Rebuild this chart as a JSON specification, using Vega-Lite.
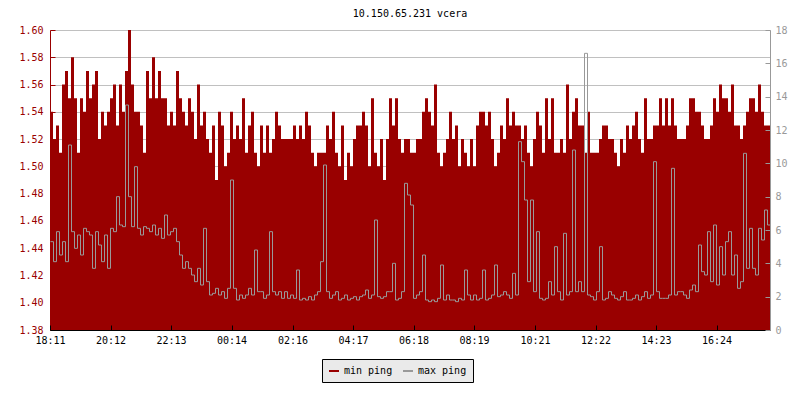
{
  "$schema": "https://vega.github.io/schema/vega-lite/v6.json",
  "autosize": {"type": "none"},
  "width": 720,
  "height": 300,
  "padding": {"left": 50, "top": 30, "right": 30, "bottom": 70},
  "background": "white",
  "title": {"text": "10.150.65.231 vcera", "font": "DejaVu Sans Mono", "fontSize": 10, "fontWeight": "normal", "color": "black", "anchor": "middle", "offset": 6},
  "config": {
    "view": {"stroke": null},
    "font": "DejaVu Sans Mono",
    "axis": {"labelFont": "DejaVu Sans Mono", "labelFontSize": 10, "title": null}
  },
  "datasets": {
    "ping": [
{"m":0,"lo":1.54,"hi":5.3},{"m":6,"lo":1.52,"hi":4.1},{"m":12,"lo":1.53,"hi":5.9},{"m":18,"lo":1.51,"hi":4.5},{"m":24,"lo":1.56,"hi":5.3},{"m":30,"lo":1.57,"hi":4.1},{"m":36,"lo":1.55,"hi":11.1},{"m":42,"lo":1.58,"hi":5.9},{"m":48,"lo":1.55,"hi":4.9},{"m":54,"lo":1.51,"hi":5.7},
{"m":60,"lo":1.55,"hi":4.5},{"m":66,"lo":1.54,"hi":6.1},{"m":72,"lo":1.57,"hi":5.9},{"m":78,"lo":1.55,"hi":5.7},{"m":84,"lo":1.56,"hi":3.7},{"m":90,"lo":1.57,"hi":5.9},{"m":96,"lo":1.52,"hi":5.1},{"m":102,"lo":1.54,"hi":4.1},{"m":108,"lo":1.53,"hi":5.7},{"m":114,"lo":1.54,"hi":3.7},
{"m":120,"lo":1.55,"hi":6.1},{"m":126,"lo":1.56,"hi":5.9},{"m":132,"lo":1.53,"hi":8.0},{"m":138,"lo":1.56,"hi":6.3},{"m":144,"lo":1.54,"hi":6.2},{"m":150,"lo":1.57,"hi":13.5},{"m":156,"lo":1.60,"hi":8.0},{"m":162,"lo":1.56,"hi":6.2},{"m":168,"lo":1.54,"hi":9.8},{"m":174,"lo":1.54,"hi":6.1},
{"m":180,"lo":1.53,"hi":5.7},{"m":186,"lo":1.51,"hi":6.2},{"m":192,"lo":1.57,"hi":6.1},{"m":198,"lo":1.55,"hi":5.9},{"m":204,"lo":1.58,"hi":6.3},{"m":210,"lo":1.55,"hi":5.7},{"m":216,"lo":1.57,"hi":6.1},{"m":222,"lo":1.55,"hi":5.5},{"m":228,"lo":1.55,"hi":6.9},{"m":234,"lo":1.53,"hi":5.7},
{"m":240,"lo":1.54,"hi":5.9},{"m":246,"lo":1.53,"hi":6.1},{"m":252,"lo":1.57,"hi":5.3},{"m":258,"lo":1.55,"hi":4.5},{"m":264,"lo":1.54,"hi":3.7},{"m":270,"lo":1.53,"hi":4.1},{"m":276,"lo":1.55,"hi":3.7},{"m":282,"lo":1.54,"hi":3.3},{"m":288,"lo":1.52,"hi":2.9},{"m":294,"lo":1.56,"hi":3.7},
{"m":300,"lo":1.53,"hi":2.7},{"m":306,"lo":1.54,"hi":6.1},{"m":312,"lo":1.52,"hi":2.9},{"m":318,"lo":1.51,"hi":2.1},{"m":324,"lo":1.53,"hi":2.2},{"m":330,"lo":1.49,"hi":2.5},{"m":336,"lo":1.54,"hi":2.1},{"m":342,"lo":1.53,"hi":2.3},{"m":348,"lo":1.50,"hi":1.9},{"m":354,"lo":1.51,"hi":2.5},
{"m":360,"lo":1.54,"hi":9.0},{"m":366,"lo":1.52,"hi":2.5},{"m":372,"lo":1.53,"hi":1.8},{"m":378,"lo":1.52,"hi":2.1},{"m":384,"lo":1.55,"hi":1.9},{"m":390,"lo":1.51,"hi":2.1},{"m":396,"lo":1.53,"hi":2.5},{"m":402,"lo":1.54,"hi":2.1},{"m":408,"lo":1.51,"hi":4.8},{"m":414,"lo":1.50,"hi":2.3},
{"m":420,"lo":1.53,"hi":2.3},{"m":426,"lo":1.51,"hi":1.9},{"m":432,"lo":1.53,"hi":2.1},{"m":438,"lo":1.51,"hi":5.9},{"m":444,"lo":1.52,"hi":2.3},{"m":450,"lo":1.54,"hi":2.1},{"m":456,"lo":1.53,"hi":2.3},{"m":462,"lo":1.52,"hi":1.9},{"m":468,"lo":1.52,"hi":2.3},{"m":474,"lo":1.52,"hi":1.9},
{"m":480,"lo":1.52,"hi":2.1},{"m":486,"lo":1.53,"hi":1.9},{"m":492,"lo":1.52,"hi":3.6},{"m":498,"lo":1.53,"hi":1.8},{"m":504,"lo":1.52,"hi":1.9},{"m":510,"lo":1.54,"hi":1.8},{"m":516,"lo":1.53,"hi":2.0},{"m":522,"lo":1.51,"hi":1.8},{"m":528,"lo":1.50,"hi":2.1},{"m":534,"lo":1.51,"hi":2.3},
{"m":540,"lo":1.51,"hi":4.1},{"m":546,"lo":1.51,"hi":9.9},{"m":552,"lo":1.53,"hi":2.3},{"m":558,"lo":1.52,"hi":1.9},{"m":564,"lo":1.54,"hi":2.1},{"m":570,"lo":1.51,"hi":2.3},{"m":576,"lo":1.50,"hi":1.8},{"m":582,"lo":1.53,"hi":1.9},{"m":588,"lo":1.49,"hi":2.1},{"m":594,"lo":1.51,"hi":1.8},
{"m":600,"lo":1.50,"hi":1.9},{"m":606,"lo":1.52,"hi":2.0},{"m":612,"lo":1.53,"hi":1.8},{"m":618,"lo":1.53,"hi":2.0},{"m":624,"lo":1.54,"hi":2.1},{"m":630,"lo":1.53,"hi":2.4},{"m":636,"lo":1.50,"hi":1.9},{"m":642,"lo":1.55,"hi":2.1},{"m":648,"lo":1.51,"hi":6.6},{"m":654,"lo":1.50,"hi":2.0},
{"m":660,"lo":1.52,"hi":1.9},{"m":666,"lo":1.49,"hi":2.0},{"m":672,"lo":1.52,"hi":2.3},{"m":678,"lo":1.55,"hi":2.3},{"m":684,"lo":1.53,"hi":4.0},{"m":690,"lo":1.55,"hi":1.8},{"m":696,"lo":1.52,"hi":1.9},{"m":702,"lo":1.51,"hi":2.3},{"m":708,"lo":1.52,"hi":8.8},{"m":714,"lo":1.52,"hi":8.1},
{"m":720,"lo":1.51,"hi":7.5},{"m":726,"lo":1.51,"hi":1.9},{"m":732,"lo":1.52,"hi":2.1},{"m":738,"lo":1.52,"hi":2.3},{"m":744,"lo":1.54,"hi":4.5},{"m":750,"lo":1.55,"hi":1.8},{"m":756,"lo":1.54,"hi":1.7},{"m":762,"lo":1.53,"hi":1.8},{"m":768,"lo":1.56,"hi":1.7},{"m":774,"lo":1.51,"hi":1.9},
{"m":780,"lo":1.50,"hi":3.9},{"m":786,"lo":1.51,"hi":1.8},{"m":792,"lo":1.52,"hi":2.1},{"m":798,"lo":1.54,"hi":1.8},{"m":804,"lo":1.52,"hi":1.8},{"m":810,"lo":1.53,"hi":1.7},{"m":816,"lo":1.50,"hi":1.9},{"m":822,"lo":1.52,"hi":1.8},{"m":828,"lo":1.51,"hi":3.6},{"m":834,"lo":1.50,"hi":2.1},
{"m":840,"lo":1.52,"hi":1.8},{"m":846,"lo":1.50,"hi":2.1},{"m":852,"lo":1.53,"hi":1.8},{"m":858,"lo":1.54,"hi":1.9},{"m":864,"lo":1.54,"hi":3.6},{"m":870,"lo":1.53,"hi":1.8},{"m":876,"lo":1.54,"hi":1.9},{"m":882,"lo":1.52,"hi":2.1},{"m":888,"lo":1.50,"hi":3.9},{"m":894,"lo":1.51,"hi":2.0},
{"m":900,"lo":1.53,"hi":2.1},{"m":906,"lo":1.52,"hi":2.3},{"m":912,"lo":1.55,"hi":2.1},{"m":918,"lo":1.53,"hi":1.9},{"m":924,"lo":1.54,"hi":3.4},{"m":930,"lo":1.53,"hi":2.1},{"m":936,"lo":1.53,"hi":11.3},{"m":942,"lo":1.52,"hi":10.1},{"m":948,"lo":1.53,"hi":7.8},{"m":954,"lo":1.51,"hi":2.9},
{"m":960,"lo":1.50,"hi":7.8},{"m":966,"lo":1.52,"hi":2.3},{"m":972,"lo":1.54,"hi":5.9},{"m":978,"lo":1.53,"hi":1.9},{"m":984,"lo":1.51,"hi":1.8},{"m":990,"lo":1.55,"hi":1.9},{"m":996,"lo":1.52,"hi":2.9},{"m":1002,"lo":1.55,"hi":2.1},{"m":1008,"lo":1.51,"hi":5.0},{"m":1014,"lo":1.51,"hi":2.3},
{"m":1020,"lo":1.52,"hi":1.8},{"m":1026,"lo":1.51,"hi":5.8},{"m":1032,"lo":1.56,"hi":2.1},{"m":1038,"lo":1.52,"hi":2.3},{"m":1044,"lo":1.54,"hi":10.8},{"m":1050,"lo":1.55,"hi":2.3},{"m":1056,"lo":1.53,"hi":2.9},{"m":1062,"lo":1.53,"hi":2.3},{"m":1068,"lo":1.51,"hi":16.6},{"m":1074,"lo":1.54,"hi":2.1},
{"m":1080,"lo":1.51,"hi":2.0},{"m":1086,"lo":1.51,"hi":1.8},{"m":1092,"lo":1.51,"hi":2.3},{"m":1098,"lo":1.52,"hi":5.0},{"m":1104,"lo":1.53,"hi":1.8},{"m":1110,"lo":1.53,"hi":1.9},{"m":1116,"lo":1.52,"hi":2.3},{"m":1122,"lo":1.52,"hi":2.1},{"m":1128,"lo":1.51,"hi":1.9},{"m":1134,"lo":1.50,"hi":1.8},
{"m":1140,"lo":1.52,"hi":2.0},{"m":1146,"lo":1.51,"hi":2.3},{"m":1152,"lo":1.53,"hi":1.8},{"m":1158,"lo":1.52,"hi":1.8},{"m":1164,"lo":1.53,"hi":1.9},{"m":1170,"lo":1.54,"hi":2.1},{"m":1176,"lo":1.52,"hi":1.8},{"m":1182,"lo":1.51,"hi":2.0},{"m":1188,"lo":1.55,"hi":2.3},{"m":1194,"lo":1.52,"hi":1.9},
{"m":1200,"lo":1.52,"hi":2.1},{"m":1206,"lo":1.53,"hi":10.1},{"m":1212,"lo":1.53,"hi":2.3},{"m":1218,"lo":1.55,"hi":1.9},{"m":1224,"lo":1.53,"hi":1.9},{"m":1230,"lo":1.55,"hi":1.9},{"m":1236,"lo":1.53,"hi":2.1},{"m":1242,"lo":1.55,"hi":9.7},{"m":1248,"lo":1.53,"hi":2.1},{"m":1254,"lo":1.52,"hi":2.3},
{"m":1260,"lo":1.52,"hi":2.3},{"m":1266,"lo":1.52,"hi":2.1},{"m":1272,"lo":1.53,"hi":1.9},{"m":1278,"lo":1.55,"hi":2.4},{"m":1284,"lo":1.55,"hi":2.7},{"m":1290,"lo":1.54,"hi":2.3},{"m":1296,"lo":1.54,"hi":5.1},{"m":1302,"lo":1.53,"hi":3.5},{"m":1308,"lo":1.52,"hi":3.3},{"m":1314,"lo":1.52,"hi":5.9},
{"m":1320,"lo":1.53,"hi":2.9},{"m":1326,"lo":1.55,"hi":6.3},{"m":1332,"lo":1.54,"hi":2.7},{"m":1338,"lo":1.56,"hi":5.0},{"m":1344,"lo":1.55,"hi":3.3},{"m":1350,"lo":1.55,"hi":5.3},{"m":1356,"lo":1.54,"hi":5.9},{"m":1362,"lo":1.56,"hi":3.3},{"m":1368,"lo":1.53,"hi":4.5},{"m":1374,"lo":1.53,"hi":2.5},
{"m":1380,"lo":1.52,"hi":2.9},{"m":1386,"lo":1.53,"hi":10.6},{"m":1392,"lo":1.54,"hi":3.7},{"m":1398,"lo":1.55,"hi":6.1},{"m":1404,"lo":1.55,"hi":3.7},{"m":1410,"lo":1.54,"hi":3.3},{"m":1416,"lo":1.56,"hi":6.1},{"m":1422,"lo":1.54,"hi":5.4},{"m":1428,"lo":1.53,"hi":7.2},{"m":1434,"lo":1.53,"hi":6.3},
{"m":1440,"lo":1.53,"hi":6.3}
    ]
  },
  "data": {"name": "ping"},
  "encoding": {
    "x": {
      "field": "m", "type": "quantitative",
      "scale": {"domain": [0, 1440], "nice": false},
      "axis": {
        "values": [0, 121, 242, 363, 485, 606, 727, 848, 970, 1091, 1212, 1333],
        "labelExpr": "timeFormat(datetime(2024, 0, 1, 18, 11 + datum.value), '%H:%M')",
        "grid": false, "domainColor": "black", "tickColor": "black", "tickSize": -5,
        "labelColor": "black", "labelPadding": 10, "labelFlush": false, "labelOverlap": false, "zindex": 1
      }
    }
  },
  "layer": [
    {
      "mark": {"type": "area", "interpolate": "step-after", "opacity": 1},
      "encoding": {
        "y": {
          "field": "lo", "type": "quantitative",
          "scale": {"domain": [1.38, 1.6], "nice": false, "zero": false},
          "axis": {
            "orient": "left",
            "values": [1.38, 1.4, 1.42, 1.44, 1.46, 1.48, 1.5, 1.52, 1.54, 1.56, 1.58, 1.6],
            "format": ".2f", "grid": true, "gridColor": "#c0c0c0", "gridWidth": 1,
            "domainColor": "#990000", "tickColor": "#990000", "tickSize": -5,
            "labelColor": "#990000", "labelPadding": 12, "zindex": 0
          }
        },
        "y2": {"datum": 1.38},
        "color": {
          "datum": "min ping",
          "scale": {"domain": ["min ping", "max ping"], "range": ["#990000", "#999999"]},
          "legend": {
            "title": null, "orient": "none", "legendX": 272, "legendY": 329,
            "direction": "horizontal", "symbolType": "stroke", "symbolSize": 100,
            "symbolStrokeWidth": 2, "labelFont": "DejaVu Sans Mono", "labelFontSize": 10,
            "labelColor": "black", "fillColor": "#eaeaea", "strokeColor": "black",
            "padding": 6, "columnPadding": 6, "labelOffset": 4,
            "encode": {"symbols": {"update": {"stroke": {"scale": "color", "field": "value"}, "strokeWidth": {"value": 2}, "opacity": {"value": 1}}}}
          }
        }
      }
    },
    {
      "mark": {"type": "line", "interpolate": "step-after", "strokeWidth": 1, "xOffset": 0.5},
      "encoding": {
        "y": {
          "field": "hi", "type": "quantitative",
          "scale": {"domain": [0, 18], "nice": false},
          "axis": {
            "orient": "right",
            "values": [0, 2, 4, 6, 8, 10, 12, 14, 16, 18],
            "grid": false, "domainColor": "#999999", "tickColor": "#999999", "tickSize": -5,
            "labelColor": "#999999", "labelPadding": 10, "zindex": 1
          }
        },
        "color": {"datum": "max ping"}
      }
    }
  ],
  "resolve": {"scale": {"y": "independent"}}
}
